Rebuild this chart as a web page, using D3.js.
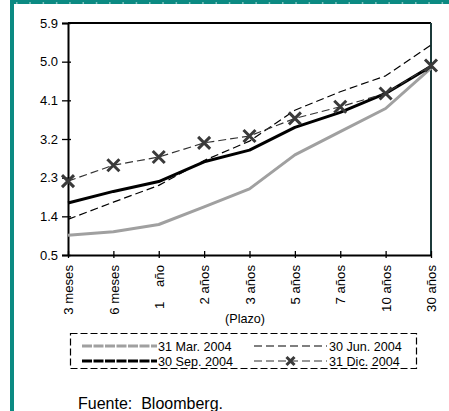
<!DOCTYPE html>
<html><head><meta charset="utf-8">
<script src="https://cdn.jsdelivr.net/npm/d3@7"></script>
<style>
html,body{margin:0;padding:0;background:#fff;}
svg{display:block;font-family:"Liberation Sans",Arial,sans-serif;}
</style></head>
<body><svg id="c" width="449" height="411"></svg>
<script>
const categories = ["3 meses","6 meses","1    año","2 años","3 años","5 años","7 años","10 años","30 años"];
const mar2004 = [0.96,1.04,1.21,1.62,2.04,2.83,3.37,3.91,4.85];
const jun2004 = [1.33,1.73,2.12,2.70,3.15,3.87,4.30,4.67,5.39];
const sep2004 = [1.71,1.98,2.21,2.67,2.94,3.47,3.82,4.26,4.89];
const dic2004 = [2.22,2.59,2.78,3.11,3.27,3.68,3.95,4.26,4.91];
const yTicks = [0.5,1.4,2.3,3.2,4.1,5.0,5.9];
const seriesNames = ["31 Mar. 2004","30 Jun. 2004","30 Sep. 2004","31 Dic. 2004"];

const svg = d3.select("#c");
const teal = "#0b8a82";
svg.append("rect").attr("x",10).attr("y",0).attr("width",4).attr("height",411).attr("fill",teal);
svg.append("rect").attr("x",10).attr("y",0).attr("width",439).attr("height",4).attr("fill",teal);
svg.append("line").attr("x1",16).attr("x2",449).attr("y1",3).attr("y2",3)
  .attr("stroke","#fff").attr("stroke-width",1).attr("stroke-dasharray","1.5,11.8");

const L=68,R=431,T=23,B=255;
const x = d3.scalePoint().domain(categories).range([L,R]).padding(0);
const y = d3.scaleLinear().domain([0.5,5.9]).range([B,T]);

svg.append("line").attr("x1",L).attr("x2",R).attr("y1",T).attr("y2",T).attr("stroke","#000").attr("stroke-width",2);
svg.append("line").attr("x1",R).attr("x2",R).attr("y1",T).attr("y2",B).attr("stroke","#1c3a3a").attr("stroke-width",2);

const ya = svg.append("g").attr("transform",`translate(${L},0)`)
  .call(d3.axisLeft(y).tickValues(yTicks).tickFormat(d3.format(".1f")).tickSize(6).tickPadding(4));
ya.select(".domain").attr("stroke","#000").attr("stroke-width",2);
ya.selectAll(".tick line").attr("x2",3).attr("x1",-6).attr("stroke","#000").attr("stroke-width",1.3);
ya.selectAll(".tick text").attr("font-size",13).attr("font-family","Liberation Sans, Arial").attr("fill","#000");

const xa = svg.append("g").attr("transform",`translate(0,${B})`)
  .call(d3.axisBottom(x).tickSize(0).tickPadding(0));
xa.select(".domain").attr("stroke","#000").attr("stroke-width",2);
xa.selectAll(".tick").append("line").attr("y1",-4).attr("y2",3).attr("stroke","#000").attr("stroke-width",1.3);
xa.selectAll(".tick text").attr("font-size",13.2).attr("font-family","Liberation Sans, Arial").attr("fill","#000")
  .style("white-space","pre")
  .attr("text-anchor","end").attr("transform","rotate(-90)").attr("x",-10).attr("y",0).attr("dy","0.35em");

svg.append("text").attr("x",245).attr("y",323).attr("text-anchor","middle").attr("font-size",12.6).text("(Plazo)");

const line = d3.line().x((d,i)=>x(categories[i])).y(d=>y(d));
const styles = [
  {data:mar2004, stroke:"#a0a0a0", w:3, dash:null, legDash:"10,1.5"},
  {data:jun2004, stroke:"#000", w:1.2, dash:"8,4", legDash:"8,4"},
  {data:sep2004, stroke:"#000", w:3, dash:null, legDash:"10,1.5"},
  {data:dic2004, stroke:"#333", w:1.2, dash:"8,4", legDash:"8,4", marker:true}
];
styles.forEach(s=>{
  svg.append("path").datum(s.data).attr("d",line).attr("fill","none")
    .attr("stroke",s.stroke).attr("stroke-width",s.w).attr("stroke-dasharray",s.dash)
    .attr("stroke-linejoin","round");
});
function xmark(g,cx,cy,r){
  g.append("path").attr("d",`M${cx-r},${cy-r}L${cx+r},${cy+r}M${cx-r},${cy+r}L${cx+r},${cy-r}`)
   .attr("stroke","#3a3a3a").attr("stroke-width",3).attr("fill","none");
}
const mg = svg.append("g");
dic2004.forEach((v,i)=>xmark(mg,x(categories[i]),y(v),6));

svg.append("rect").attr("x",70.5).attr("y",333.5).attr("width",346).attr("height",35)
  .attr("fill","none").attr("stroke","#000").attr("stroke-width",1.2).attr("stroke-dasharray","7,3");
const legPos = [{x1:82,x2:157,ty:346,tx:158},{x1:254,x2:327,ty:346,tx:329},{x1:82,x2:157,ty:361,tx:158},{x1:254,x2:327,ty:361,tx:329}];
styles.forEach((s,i)=>{
  const p = legPos[i];
  svg.append("line").attr("x1",p.x1).attr("x2",p.x2).attr("y1",p.ty).attr("y2",p.ty)
    .attr("stroke",s.stroke).attr("stroke-width",s.w).attr("stroke-dasharray",s.legDash);
  if(s.marker) xmark(svg,(p.x1+p.x2)/2,p.ty,4);
  svg.append("text").attr("x",p.tx).attr("y",p.ty+4.5).attr("font-size",12.6).text(seriesNames[i]);
});

svg.append("text").attr("x",78).attr("y",409).attr("font-size",16).style("white-space","pre").text("Fuente:  Bloomberg.");
</script></body></html>
